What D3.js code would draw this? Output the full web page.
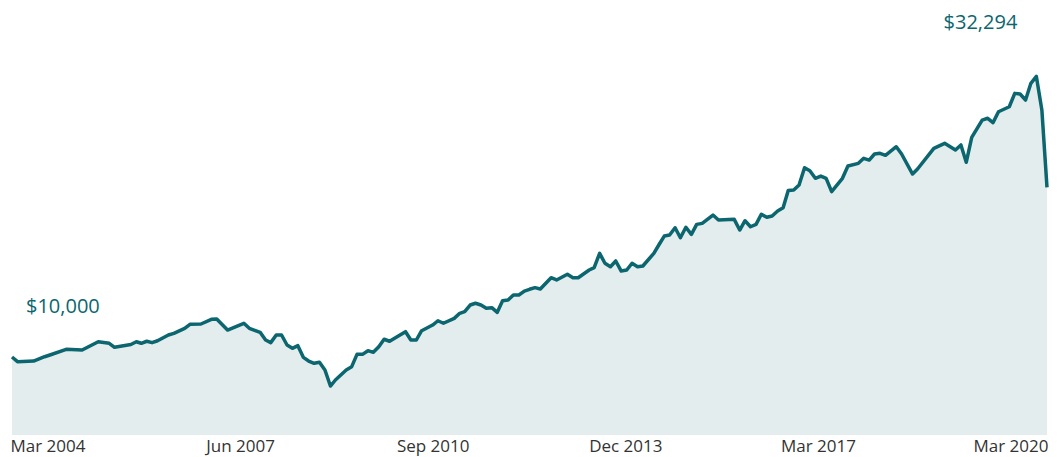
<!DOCTYPE html>
<html>
<head>
<meta charset="utf-8">
<script src="https://cdn.jsdelivr.net/npm/d3@7"></script>
<style>
  body { margin: 0; background: #fff; }
  .growthLine { fill: none; stroke: #0b666f; stroke-width: 3.5px; stroke-linejoin: round; }
  .growthArea { fill: #e3eded; }
  .axisLabel { font-family: "Open Sans", sans-serif; font-size: 17px; fill: #333; }
  .valueLabel { font-family: "Open Sans", sans-serif; font-size: 20px; fill: #0b666f; }
</style>
</head>
<body>
<svg id="chart"></svg>
<script>
// month-end dates and portfolio value
const dates = [
  '2004-03','2004-04','2004-07','2004-09','2004-10','2005-01','2005-04','2005-07','2005-09','2005-10',
  '2006-01','2006-02','2006-03','2006-04','2006-05','2006-06','2006-08','2006-09','2006-11','2006-12',
  '2007-02','2007-04','2007-05','2007-07','2007-10','2007-11','2008-01','2008-02','2008-03','2008-04',
  '2008-05','2008-06','2008-07','2008-08','2008-09','2008-10','2008-11','2008-12','2009-01','2009-02',
  '2009-03','2009-05','2009-06','2009-07','2009-08','2009-09','2009-10','2009-11','2009-12','2010-01',
  '2010-03','2010-04','2010-05','2010-06','2010-07','2010-09','2010-10','2010-11','2011-01','2011-02',
  '2011-03','2011-04','2011-05','2011-06','2011-07','2011-08','2011-09','2011-10','2011-11','2011-12',
  '2012-01','2012-02','2012-03','2012-04','2012-05','2012-07','2012-08','2012-10','2012-11','2012-12',
  '2013-02','2013-03','2013-04','2013-05','2013-06','2013-07','2013-08','2013-09','2013-10','2013-11',
  '2013-12','2014-02','2014-03','2014-04','2014-05','2014-06','2014-07','2014-08','2014-09','2014-10',
  '2014-11','2015-01','2015-02','2015-05','2015-06','2015-07','2015-08','2015-09','2015-10','2015-11',
  '2015-12','2016-01','2016-02','2016-03','2016-04','2016-05','2016-06','2016-07','2016-08','2016-09',
  '2016-10','2016-11','2017-01','2017-02','2017-04','2017-05','2017-06','2017-07','2017-08','2017-09',
  '2017-11','2017-12','2018-02','2018-03','2018-06','2018-08','2018-10','2018-11','2018-12','2019-01',
  '2019-03','2019-04','2019-05','2019-06','2019-08','2019-09','2019-10','2019-11','2019-12','2020-01',
  '2020-02','2020-03'
];

const values = [
  10000, 9630, 9680, 10020, 10160, 10610, 10550, 11210, 11090, 10770,
  10990, 11210, 11090, 11250, 11140, 11290, 11750, 11880, 12280, 12600,
  12620, 12990, 13020, 12140, 12680, 12280, 11960, 11350, 11140, 11750,
  11750, 10950, 10690, 10900, 9970, 9680, 9500, 9580, 8970, 7690,
  8170, 8970, 9230, 10210, 10210, 10500, 10370, 10820, 11410, 11250,
  11750, 12010, 11350, 11350, 12090, 12540, 12880, 12680, 13070, 13470,
  13600, 14130, 14270, 14130, 13870, 13920, 13550, 14470, 14530, 14930,
  14930, 15240, 15380, 15510, 15400, 16300, 16120, 16570, 16300, 16300,
  16910, 17100, 18240, 17450, 17170, 17630, 16830, 16910, 17450, 17170,
  17230, 18240, 18900, 19610, 19690, 20270, 19480, 20310, 19750, 20540,
  20620, 21280, 20890, 20940, 20090, 20830, 20350, 20540, 21340, 21100,
  21200, 21600, 21860, 23230, 23270, 23670, 25040, 24800, 24200, 24380,
  24200, 23140, 24200, 25180, 25390, 25790, 25650, 26130, 26190, 26030,
  26710, 26130, 24540, 24940, 26580, 26980, 26450, 26850, 25470, 27460,
  28830, 28970, 28620, 29490, 29890, 30950, 30900, 30420, 31750, 32294,
  29630, 23480
];

const tickLabels = ['Mar 2004', 'Jun 2007', 'Sep 2010', 'Dec 2013', 'Mar 2017', 'Mar 2020'];

const width = 1057;
const height = 457;

const parseDate = d3.timeParse('%Y-%m');
const dataset = dates.map((d, i) => ({ x: parseDate(d), y: values[i] }));

const svg = d3.select('#chart')
  .attr('width', width)
  .attr('height', height);

const xScale = d3.scaleTime()
  .domain(d3.extent(dataset, d => d.x))
  .range([12, 1047]);

const yScale = d3.scaleLinear()
  .domain([3800, 34000])
  .range([435, 55]);

const area = d3.area()
  .x(d => xScale(d.x))
  .y0(yScale(3800))
  .y1(d => yScale(d.y));

const line = d3.line()
  .x(d => xScale(d.x))
  .y(d => yScale(d.y));

svg.append('path')
  .datum(dataset)
  .attr('class', 'growthArea')
  .attr('d', area);

svg.append('path')
  .datum(dataset)
  .attr('class', 'growthLine')
  .attr('d', line);

// start and peak value labels
const first = dataset[0];
const peak = dataset.reduce((a, b) => (b.y > a.y ? b : a));
const fmt = d3.format('$,.0f');

svg.append('text')
  .attr('class', 'valueLabel')
  .attr('x', xScale(first.x) + 14)
  .attr('y', yScale(first.y) - 44)
  .text(fmt(first.y));

svg.append('text')
  .attr('class', 'valueLabel')
  .attr('text-anchor', 'end')
  .attr('x', xScale(peak.x) - 19)
  .attr('y', yScale(peak.y) - 47)
  .text(fmt(peak.y));

// date labels are spread evenly under the chart
const labelScale = d3.scalePoint()
  .domain(tickLabels)
  .range([48, 1011]);

svg.append('g')
  .selectAll('text')
  .data(tickLabels)
  .join('text')
    .attr('class', 'axisLabel')
    .attr('text-anchor', 'middle')
    .attr('x', d => labelScale(d))
    .attr('y', 452)
    .text(d => d);
</script>
</body>
</html>
